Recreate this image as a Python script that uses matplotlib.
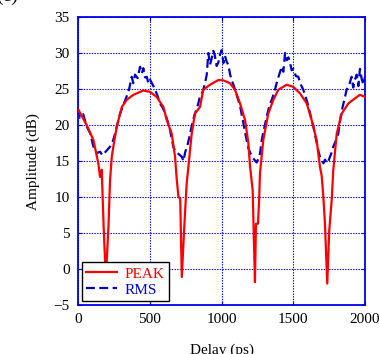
import matplotlib
matplotlib.use("Agg")
import matplotlib.pyplot as plt

# PEAK curve (delay ps, amplitude dB)
peak_x = [0, 60, 107, 141, 153, 165, 178, 188, 194, 200, 212, 223, 235, 250, 270, 305,
          339, 386, 455, 502, 548, 595, 618, 653, 676, 688, 700, 712, 723, 739, 757,
          769, 792, 815, 850, 873, 920, 978, 1013, 1059, 1094, 1129, 1164, 1187, 1199,
          1217, 1227, 1233, 1240, 1254, 1262, 1268, 1291, 1326, 1361, 1396, 1454, 1500,
          1547, 1594, 1628, 1663, 1686, 1698, 1710, 1721, 1737, 1751, 1768, 1779, 1803,
          1838, 1884, 1930, 1965, 2000]
peak_y = [22.2, 20.0, 17.9, 14.7, 12.8, 13.8, 6.0, 1.2, -0.8, 1.2, 6.0, 12.4, 15.6, 17.5,
          19.8, 22.5, 23.5, 24.2, 24.8, 24.6, 23.9, 22.5, 20.7, 18.8, 15.6, 12.4, 10.0,
          9.8, -1.1, 5.4, 11.9, 14.2, 18.8, 21.6, 22.5, 24.9, 25.6, 26.25, 26.2, 25.8,
          24.9, 23.0, 20.7, 17.5, 14.2, 11.0, 3.0, -1.8, 6.3, 6.3, 9.5, 13.3, 17.9, 21.6,
          23.5, 24.9, 25.6, 25.3, 24.4, 23.0, 20.7, 17.9, 14.2, 13.0, 10.0, 6.3, -2.0,
          5.4, 9.6, 13.75, 18.8, 21.6, 23.0, 23.7, 24.2, 23.9]

# RMS curve (delay ps, amplitude dB)
rms_x = [0, 12, 36, 60, 84, 107, 130, 153, 170, 188, 205, 223, 240, 258, 275, 293, 316,
         339, 356, 374, 385, 397, 415, 432, 445, 455, 467, 479, 490, 502, 520, 537, 555,
         571, 590, 606, 625, 641, 654, 664, 676, 688, 705, 723, 735, 746, 763, 781, 798,
         815, 833, 850, 868, 885, 897, 908, 920, 931, 943, 954, 966, 978, 990, 1001, 1013,
         1024, 1036, 1048, 1060, 1071, 1083, 1094, 1112, 1129, 1140, 1152, 1164, 1175,
         1187, 1199, 1216, 1233, 1245, 1256, 1268, 1280, 1298, 1315, 1333, 1350, 1367,
         1384, 1402, 1420, 1431, 1443, 1455, 1466, 1477, 1489, 1500, 1518, 1535, 1553,
         1570, 1588, 1605, 1622, 1640, 1652, 1663, 1675, 1686, 1698, 1710, 1722, 1733,
         1745, 1756, 1768, 1779, 1796, 1814, 1826, 1838, 1855, 1872, 1890, 1907, 1918,
         1930, 1942, 1954, 1965, 1977, 1989, 2000]
rms_y = [22.2, 21.0, 21.5, 19.8, 18.9, 17.0, 16.1, 16.3, 15.8, 16.2, 16.6, 17.0, 17.6,
         18.8, 20.2, 21.6, 22.8, 24.0, 25.0, 26.7, 25.8, 27.0, 26.5, 28.1, 27.2, 27.9,
         26.6, 26.7, 25.8, 26.3, 25.6, 24.9, 24.0, 23.0, 22.4, 21.6, 20.5, 19.3, 18.0,
         17.0, 16.4, 16.2, 15.9, 15.6, 15.0, 16.2, 17.2, 18.8, 20.4, 21.6, 22.6, 24.0,
         24.6, 25.8, 27.0, 30.0, 28.4, 29.2, 30.3, 29.6, 28.2, 28.7, 29.8, 30.4, 28.6,
         29.6, 28.8, 28.3, 27.0, 26.25, 25.6, 24.9, 23.8, 22.7, 21.5, 20.3, 19.0, 17.9,
         16.8, 16.2, 15.5, 15.1, 14.8, 15.3, 16.0, 17.9, 19.6, 21.2, 22.6, 23.5, 24.5,
         25.8, 27.0, 28.1, 27.4, 30.0, 29.0, 29.4, 28.7, 27.6, 27.8, 26.8, 26.7, 25.6,
         24.9, 23.8, 22.7, 21.2, 19.9, 18.6, 17.6, 16.4, 15.6, 15.1, 14.7, 15.2, 14.7,
         15.0, 15.6, 16.2, 17.0, 17.8, 18.8, 20.6, 22.0, 23.4, 24.9, 25.6, 26.7, 25.2,
         26.3, 27.0, 25.4, 27.8, 26.4, 25.6, 26.7]

BLUE = "#0000ee"

plt.rcParams["font.family"] = ["Liberation Serif", "DejaVu Serif"]
fig = plt.figure(figsize=(3.79, 3.54), dpi=100)
ax = fig.add_axes([0.206, 0.138, 0.757, 0.814])

ax.plot(peak_x, peak_y, color="#ff0000", lw=1.6, label="PEAK", zorder=3)
ax.plot(rms_x, rms_y, color="#0000cc", lw=1.6, ls=(0, (4, 2)), label="RMS", zorder=2)

ax.set_xlim(0, 2000)
ax.set_ylim(-5, 35)
ax.set_xticks([0, 500, 1000, 1500, 2000])
ax.set_yticks(range(-5, 36, 5))
ax.grid(True, color=BLUE, ls=(0, (1.2, 1.2)), lw=0.8)
for s in ax.spines.values():
    s.set_color(BLUE)
    s.set_linewidth(1.3)
ax.tick_params(direction="in", length=3, color=BLUE, labelsize=11,
               top=True, right=True, pad=6)
ax.set_xlabel("Delay (ps)", fontsize=11, labelpad=12)
ax.set_ylabel("Amplitude (dB)", fontsize=11, labelpad=10)

leg = ax.legend(loc="lower left", fontsize=11, fancybox=False, framealpha=1,
                edgecolor="black", borderaxespad=0.25, handlelength=2.0,
                handletextpad=0.5, borderpad=0.3, labelspacing=0.15)
leg.get_frame().set_linewidth(1.0)
for t, c in zip(leg.get_texts(), ["#ff0000", "#0000ee"]):
    t.set_color(c)

fig.text(18 / 379, 1.01, "(c)", fontsize=14, va="center", ha="right")

fig.savefig("out.png", dpi=100)
